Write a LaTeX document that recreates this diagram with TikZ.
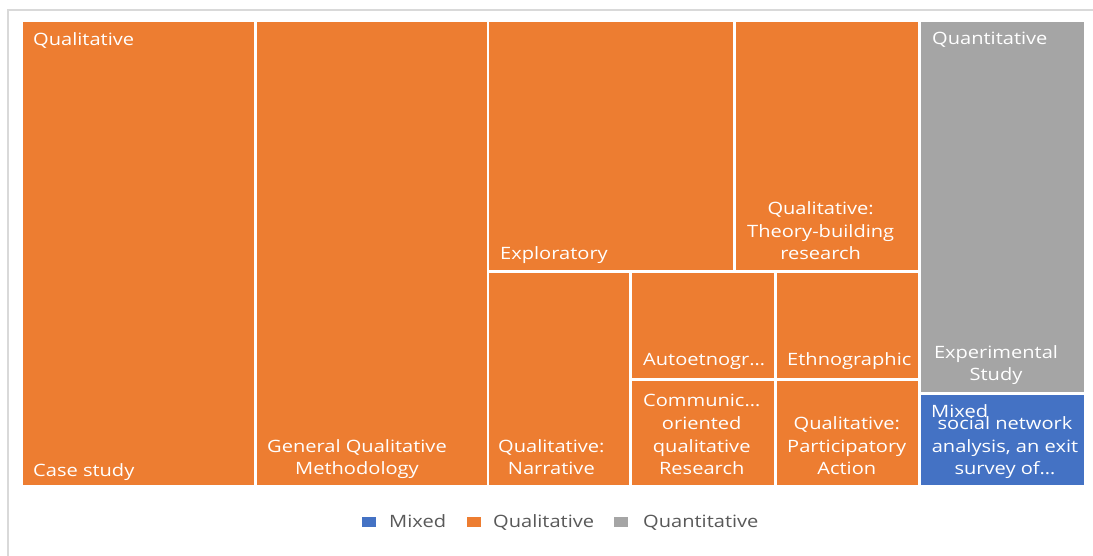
\documentclass[tikz,border=0pt]{standalone}
\usepackage{fontspec}
\setmainfont{Open Sans}[FakeStretch=1.18]
\definecolor{qorange}{HTML}{ED7D31}
\definecolor{qgray}{HTML}{A5A5A5}
\definecolor{qblue}{HTML}{4472C4}
\definecolor{frameline}{HTML}{D9D9D9}
\definecolor{legtext}{HTML}{595959}
\begin{document}
\begin{tikzpicture}[x=1pt,y=-1pt,
  lbl/.style={text=white, inner sep=0pt, font=\fontsize{17}{22.7}\selectfont, align=center},
  lblone/.style={lbl, anchor=base west},
  lblblock/.style={lbl, anchor=south west},
  lblmid/.style={lbl, anchor=south},
  leg/.style={text=legtext, inner sep=0pt, font=\fontsize{17}{22.7}\selectfont, anchor=base west},
  orangetile/.style={fill=qorange},
  graytile/.style={fill=qgray},
  bluetile/.style={fill=qblue},
]
\useasboundingbox (0,0) rectangle (1093,556);
\fill[white] (0,0) rectangle (1093,556);
\draw[frameline, line width=2pt] (8,556) -- (8,10) -- (1093,10);
% tiles
\path[orangetile] (23,22) rectangle (254,485);
\path[orangetile] (257,22) rectangle (487,485);
\path[orangetile] (489,22) rectangle (733,270);
\path[orangetile] (736,22) rectangle (918,270);
\path[orangetile] (489,273) rectangle (629,485);
\path[orangetile] (632,273) rectangle (774,378);
\path[orangetile] (777,273) rectangle (918,378);
\path[orangetile] (632,381) rectangle (774,485);
\path[orangetile] (777,381) rectangle (918,485);
\path[graytile] (921,22) rectangle (1084,392);
\path[bluetile] (921,395) rectangle (1084,485);
% labels
\node[lblone] (qualhead) at (33,46) {Qualitative};
\node[lblone] (casestudy) at (33,476) {Case study};
\node[lblblock] (general) at (267,482) {General Qualitative\\Methodology\strut};
\node[lblone] (explor) at (500,260) {Exploratory};
\node[lblblock] (theory) at (747,267) {Qualitative:\\Theory-building\\research\strut};
\node[lblblock] (narr) at (498,482) {Qualitative:\\Narrative\strut};
\node[lblone] (autoet) at (643,365) {Autoetnogr…};
\node[lblone] (ethno) at (787,365) {Ethnographic};
\node[lblblock] (comm) at (643,482) {Communic…\\oriented\\qualitative\\Research\strut};
\node[lblblock] (partic) at (787,482) {Qualitative:\\Participatory\\Action\strut};
\node[lblone] (quanthead) at (932,45) {Quantitative};
\node[lblmid] (exper) at (996,388) {Experimental\\Study\strut};
\node[lblone] (mixedhead) at (931,417) {Mixed};
\node[lblmid] (social) at (1005,482) {social network\\analysis, an exit\\survey of…\strut};
% legend
\fill[qblue] (362,517) rectangle (376,527);
\node[leg] (legmixed) at (389,527) {Mixed};
\fill[qorange] (467,517) rectangle (481,527);
\node[leg] (legqual) at (493,527) {Qualitative};
\fill[qgray] (614,517) rectangle (628,527);
\node[leg] (legquant) at (643,527) {Quantitative};
\end{tikzpicture}
\end{document}
